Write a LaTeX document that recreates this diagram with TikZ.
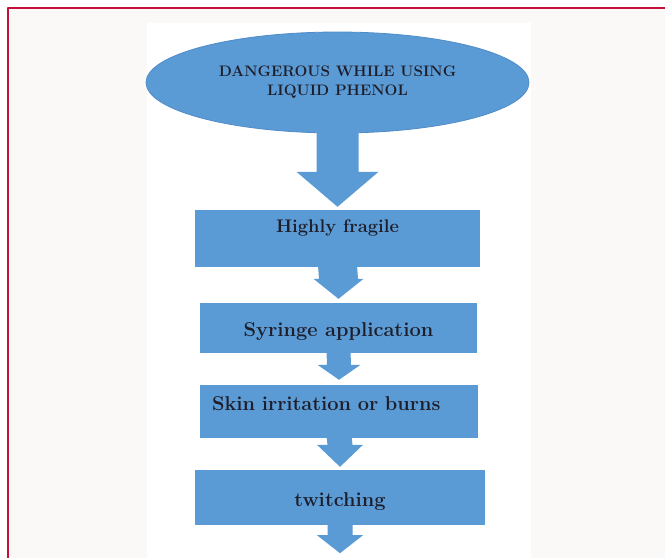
\documentclass[tikz,border=0pt]{standalone}
\usetikzlibrary{shapes.geometric,calc}
\definecolor{panelbg}{HTML}{FBF8F8}
\definecolor{framered}{HTML}{C4103A}
\definecolor{flowblue}{HTML}{5B9BD5}
\definecolor{flowedge}{HTML}{4F8CC9}
\definecolor{inkdark}{HTML}{1E1E2A}
\tikzset{
  flowbox/.style={rectangle,fill=flowblue,text=inkdark,inner sep=0pt,
    font=\fontsize{20}{23}\selectfont\bfseries,text height=13pt,text depth=4pt},
  topoval/.style={ellipse,fill=flowblue,draw=flowedge,line width=0.8,text=inkdark,
    inner sep=0pt,align=center,font=\fontsize{15.2}{19}\selectfont\bfseries}
}
\newcommand{\blockarrow}[6]{%
  \fill[flowblue] ($(#1)+(-#4,-2)$) -- ($(#1)+(#4,-2)$) -- ($(#2)+(#4,-#3-#6)$)
    -- ($(#2)+(#5,-#3-#6)$) -- ($(#2)+(0,-#3)$) -- ($(#2)+(-#5,-#3-#6)$)
    -- ($(#2)+(-#4,-#3-#6)$) -- cycle;}
\begin{document}
\begin{tikzpicture}[x=1pt,y=-1pt,line join=round]
\useasboundingbox (0,0) rectangle (665,558);
\fill[white] (0,0) rectangle (665,558);
\fill[panelbg] (8,8) rectangle (665,558);
\draw[framered,line width=1.5] (665,8) -- (8,8) -- (8,558);
\fill[white] (147,23) rectangle (531,558);

\node[topoval,minimum width=383,minimum height=101] (danger) at (337.5,82.5) {DANGEROUS WHILE USING\\LIQUID PHENOL};
\node[flowbox,font=\fontsize{18.3}{21}\selectfont\bfseries,minimum width=285,minimum height=57,text height=12pt,text depth=25pt] (fragile) at (337.5,238.5) {Highly fragile};
\node[flowbox,minimum width=277,minimum height=50,text height=20pt] (syringe) at (338.5,328) {Syringe application};
\node[flowbox,text width=254,inner xsep=12,align=left,minimum height=53,text depth=16pt] (skin) at (339,411.5) {Skin irritation or burns};
\node[flowbox,minimum width=290,minimum height=55,text height=22pt] (twitching) at (340,497.5) {twitching};
\coordinate (tail) at ($(twitching.south)+(0,28)$);

\blockarrow{danger.south}{fragile.north}{3}{21}{41}{35}
\blockarrow{fragile.south}{syringe.north}{4}{19.5}{25}{20}
\blockarrow{syringe.south}{skin.north}{5}{12}{21.5}{15}
\blockarrow{skin.south}{twitching.north}{3}{12.5}{23}{22}
\blockarrow{twitching.south}{tail}{0}{12.5}{23}{18}
\end{tikzpicture}
\end{document}
